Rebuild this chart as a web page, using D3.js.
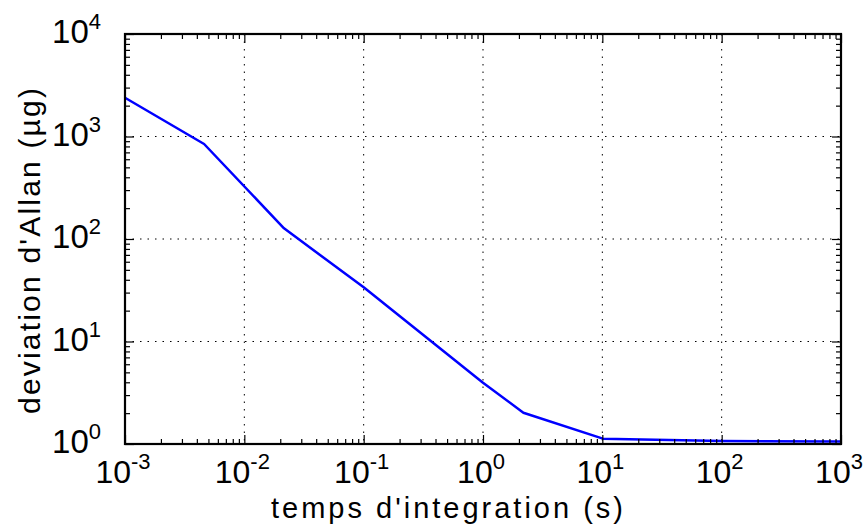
<!DOCTYPE html>
<html><head><meta charset="utf-8">
<script src="https://cdn.jsdelivr.net/npm/d3@7"></script>
<style>body{margin:0;background:#fff} text{font-family:"Liberation Sans",Arial,sans-serif;fill:#000}</style>
</head><body><svg id="c" width="864" height="530"></svg>
<script>
// data
const tau  = [0.001, 0.0046, 0.0215, 0.1, 1, 2.18, 10.1, 100, 1000];
const adev = [2390, 845, 127, 33.8, 3.96, 2.02, 1.127, 1.07, 1.06];
const xExponents = ["-3","-2","-1","0","1","2","3"];
const yExponents = ["0","1","2","3","4"];
const xTitle = "temps d'integration (s)";
const yTitle = "deviation d'Allan (µg)";

const L=125, R=841, T=34, B=444;
const svg = d3.select("#c");
const x = d3.scaleLog().domain([1e-3,1e3]).range([L,R]);
const y = d3.scaleLog().domain([1,1e4]).range([B,T]);
const xMajor = xExponents.map(e=>Math.pow(10,+e));
const yMajor = yExponents.map(e=>Math.pow(10,+e));
const minorOf = maj => { const a=[]; maj.slice(0,-1).forEach(d=>{for(let k=2;k<=9;k++)a.push(k*d);}); return a; };
const xMinor = minorOf(xMajor), yMinor = minorOf(yMajor);

// grid
const g = svg.append("g");
g.selectAll(".gx").data(xMajor.slice(1,-1)).join("line")
 .attr("x1",d=>x(d)).attr("x2",d=>x(d)).attr("y1",T).attr("y2",B)
 .attr("stroke","#000").attr("stroke-width",1).attr("stroke-dasharray","1.5,6");
g.selectAll(".gy").data(yMajor.slice(1,-1)).join("line")
 .attr("y1",d=>y(d)).attr("y2",d=>y(d)).attr("x1",L).attr("x2",R)
 .attr("stroke","#000").attr("stroke-width",1).attr("stroke-dasharray","1.5,6");

// line
const line = d3.line().x((d,i)=>x(tau[i])).y(d=>y(d));
svg.append("path").datum(adev).attr("d",line).attr("fill","none")
 .attr("stroke","#0000ff").attr("stroke-width",2.5).attr("stroke-linejoin","round");

// ticks (inward) on all four sides
function ticks(axisFn, scale, vals, len, tr){
  svg.append("g").attr("transform",tr)
   .call(axisFn(scale).tickValues(vals).tickSize(-len).tickFormat(""))
   .call(s=>{s.select(".domain").remove(); s.selectAll("line").attr("stroke","#000").attr("stroke-width",1.2);});
}
ticks(d3.axisBottom,x,xMajor,9,`translate(0,${B})`);
ticks(d3.axisBottom,x,xMinor,5,`translate(0,${B})`);
ticks(d3.axisTop,x,xMajor,9,`translate(0,${T})`);
ticks(d3.axisTop,x,xMinor,5,`translate(0,${T})`);
ticks(d3.axisLeft,y,yMajor,9,`translate(${L},0)`);
ticks(d3.axisLeft,y,yMinor,5,`translate(${L},0)`);
ticks(d3.axisRight,y,yMajor,9,`translate(${R},0)`);
ticks(d3.axisRight,y,yMinor,5,`translate(${R},0)`);

// border
svg.append("rect").attr("x",L).attr("y",T).attr("width",R-L).attr("height",B-T)
 .attr("fill","none").attr("stroke","#000").attr("stroke-width",2.2);

// tick labels
const xl = svg.append("g");
xExponents.forEach((e,i)=>{
  const t = xl.append("text").attr("x",x(xMajor[i])-2).attr("y",483)
    .attr("text-anchor","middle").attr("font-size",32);
  t.append("tspan").text("10");
  t.append("tspan").attr("dy",-14).attr("font-size",22).text(e);
});
const yl = svg.append("g");
yExponents.forEach((e,i)=>{
  const t = yl.append("text").attr("x",101).attr("y",y(yMajor[i])+9)
    .attr("text-anchor","end").attr("font-size",33);
  t.append("tspan").text("10");
  t.append("tspan").attr("dy",-14).attr("font-size",22).text(e);
});

// titles
svg.append("text").attr("x",447).attr("y",518).attr("text-anchor","middle")
 .attr("font-size",29).attr("textLength",352).attr("lengthAdjust","spacing").text(xTitle);
svg.append("text").attr("transform","translate(40,251) rotate(-90)").attr("text-anchor","middle")
 .attr("font-size",30).attr("textLength",326).attr("lengthAdjust","spacing").text(yTitle);
</script></body></html>
